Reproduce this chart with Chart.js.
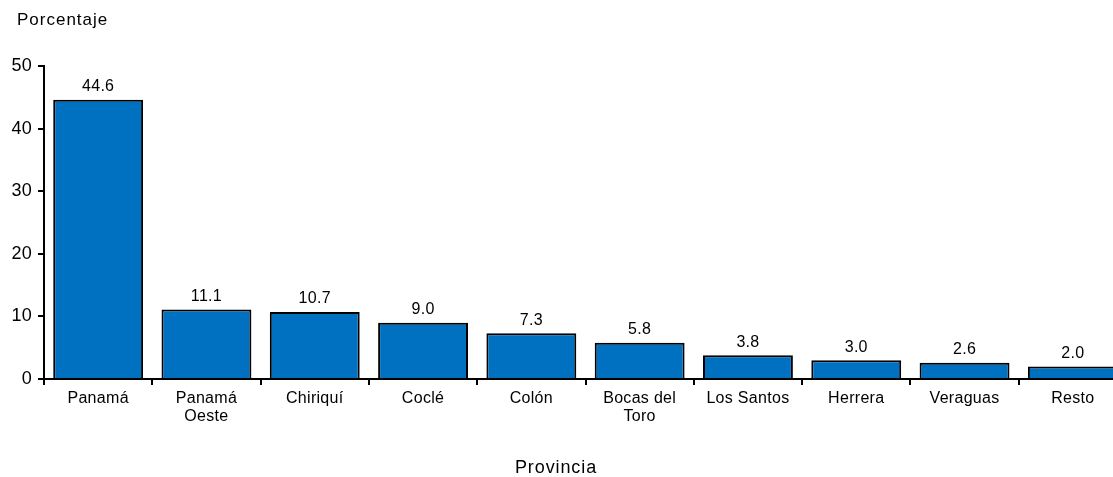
<!DOCTYPE html>
<html>
<head>
    <title>Porcentaje por provincia</title>
    <script src="https://cdn.jsdelivr.net/npm/chart.js"></script>
    <style>
        html, body { margin: 0; padding: 0; background: #fff; overflow: hidden; }
        /* the plot runs a little past the right edge, like the original */
        #wrap { width: 1130px; height: 477px; }
    </style>
</head>
<body>
    <div id="wrap"><canvas id="barChart"></canvas></div>

    <script>
        // Data
        const provincias = ['Panamá', ['Panamá', 'Oeste'], 'Chiriquí', 'Coclé', 'Colón',
            ['Bocas del', 'Toro'], 'Los Santos', 'Herrera', 'Veraguas', 'Resto'];
        const porcentajes = [44.6, 11.1, 10.7, 9.0, 7.3, 5.8, 3.8, 3.0, 2.6, 2.0];
        const yTicks = [0, 10, 20, 30, 40, 50];

        const FONT = 'Arial, "Liberation Sans", sans-serif';

        // the original text is spaced out a little (Excel export)
        const spacingPlugin = {
            id: 'spacing',
            beforeDraw(chart) { chart.ctx.letterSpacing = '0.3px'; }
        };

        // value labels above each bar + axis titles
        const labelsPlugin = {
            id: 'labels',
            afterDatasetsDraw(chart) {
                const ctx = chart.ctx;
                const meta = chart.getDatasetMeta(0);
                ctx.save();
                ctx.fillStyle = '#000';
                ctx.font = '16px ' + FONT;
                ctx.textAlign = 'center';
                ctx.textBaseline = 'bottom';
                meta.data.forEach((bar, i) => {
                    ctx.fillText(porcentajes[i].toFixed(1), bar.x, bar.y - 5);
                });
                ctx.letterSpacing = '1px';
                ctx.font = '17px ' + FONT;
                ctx.textAlign = 'left';
                ctx.textBaseline = 'middle';
                ctx.fillText('Porcentaje', 17, 20);
                ctx.letterSpacing = '0.9px';
                ctx.font = '18px ' + FONT;
                ctx.textAlign = 'center';
                ctx.fillText('Provincia', 556, 468);
                ctx.restore();
            }
        };

        new Chart(document.getElementById('barChart'), {
            type: 'bar',
            data: {
                labels: provincias,
                datasets: [{
                    data: porcentajes,
                    backgroundColor: '#0070C0',
                    borderColor: '#000',
                    borderWidth: 2,
                    barPercentage: 0.83,
                    categoryPercentage: 1
                }]
            },
            options: {
                responsive: true,
                maintainAspectRatio: false,
                animation: false,
                layout: { padding: { top: 66, right: 3, bottom: 38, left: 0 } },
                plugins: {
                    legend: { display: false },
                    tooltip: { enabled: false }
                },
                scales: {
                    x: {
                        border: { color: '#000', width: 2 },
                        grid: {
                            display: true, drawOnChartArea: false, drawTicks: true,
                            tickLength: 6, color: '#000', lineWidth: 2, offset: true
                        },
                        ticks: {
                            color: '#000', font: { size: 16, family: FONT, lineHeight: 1.15 },
                            padding: 4, maxRotation: 0, autoSkip: false
                        },
                        afterFit(scale) { scale.height = 60; }
                    },
                    y: {
                        min: 0, max: 50,
                        border: { color: '#000', width: 2 },
                        grid: {
                            display: true, drawOnChartArea: false, drawTicks: true,
                            tickLength: 6, color: '#000', lineWidth: 2
                        },
                        afterBuildTicks(scale) {
                            scale.ticks = yTicks.map(v => ({ value: v }));
                        },
                        ticks: {
                            color: '#000', font: { size: 18, family: FONT }, padding: 6
                        },
                        afterFit(scale) { scale.width = 44; }
                    }
                }
            },
            plugins: [spacingPlugin, labelsPlugin]
        });
    </script>
</body>
</html>
